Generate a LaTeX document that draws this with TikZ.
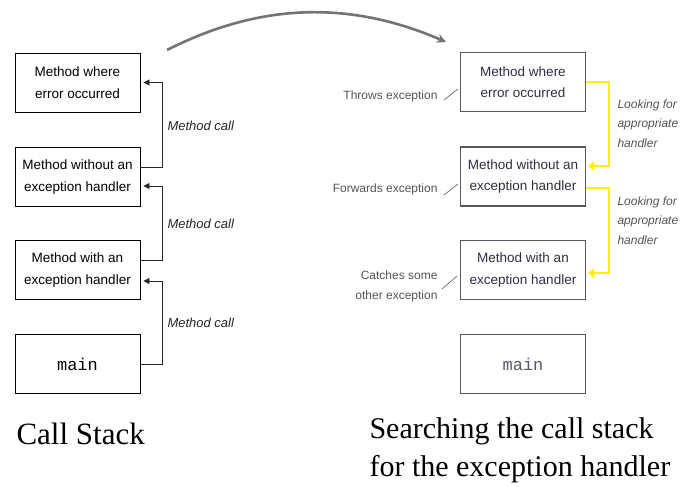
\documentclass[tikz,border=0pt]{standalone}
\usepackage{fontspec}
\setmainfont{Liberation Sans}
\newfontfamily\capfont{Liberation Serif}
\newfontfamily\monofont{Liberation Mono}
\usetikzlibrary{arrows.meta}
\definecolor{ylw}{HTML}{FFF200}
\definecolor{rtxt}{HTML}{2E3040}
\definecolor{anno}{HTML}{555555}
\tikzset{
  lbox/.style={draw=black, line width=0.9pt, minimum width=125pt, minimum height=59pt, align=center, inner sep=0pt, font=\fontsize{13.5}{21.5}\selectfont},
  rbox/.style={lbox, draw=black!65, line width=1.1pt, text=rtxt},
  callarrow/.style={draw=black!85, line width=0.8pt, -{Triangle[length=6pt,width=6pt]}, shorten >=3pt},
  searcharrow/.style={draw=ylw, line width=2.6pt, -{Triangle[length=6pt,width=9pt]}, shorten >=2pt},
  calllabel/.style={anchor=west, font=\fontsize{13}{16}\itshape, text=black!85},
  looklabel/.style={anchor=north west, align=left, font=\fontsize{12}{19.5}\selectfont\itshape, text=anno},
  annolabel/.style={anchor=east, align=right, font=\fontsize{12}{20}\selectfont, text=anno},
  annoline/.style={draw=anno, line width=0.6pt},
  mainlbl/.style={font=\monofont\fontsize{17}{20}\selectfont},
}
\begin{document}
\begin{tikzpicture}[x=1pt,y=-1pt]
\useasboundingbox[fill=white] (0,0) rectangle (691,487);

% left call stack
\node[lbox] (l1) at (77.5,82.5) {Method where\\error occurred};
\node[lbox] (l2) at (77.5,177) {Method without an\\exception handler};
\node[lbox] (l3) at (77.5,270) {Method with an\\exception handler};
\node[lbox, mainlbl] (l4) at (77.5,364) {main};

\draw[callarrow] ([yshift=10pt]l2.east) -- ++(22,0) |- (l1.east);
\draw[callarrow] ([yshift=10pt]l3.east) -- ++(22,0) |- ([yshift=-9pt]l2.east);
\draw[callarrow] (l4.east) -- ++(22,0) |- ([yshift=-11pt]l3.east);

\node[calllabel] (c1) at (164,126) {Method call};
\node[calllabel] (c2) at (164,224) {Method call};
\node[calllabel] (c3) at (164,323) {Method call};

% right search
\node[rbox] (r1) at (523,82) {Method where\\error occurred};
\node[rbox] (r2) at (523,176.5) {Method without an\\exception handler};
\node[rbox] (r3) at (523,270) {Method with an\\exception handler};
\node[rbox, mainlbl, text=rtxt!80] (r4) at (523,364) {main};

\draw[searcharrow] (r1.east) -- ++(23,0) |- ([yshift=10.5pt]r2.east);
\draw[searcharrow] ([yshift=-11.5pt]r2.east) -- ++(23,0) |- ([yshift=-3pt]r3.east);

\node[looklabel] (k1) at (614,96) {Looking for\\appropriate\\handler};
\node[looklabel] (k2) at (614,193) {Looking for\\appropriate\\handler};

\node[annolabel] (a1) at (441,96) {Throws exception};
\node[annolabel] (a2) at (441,189) {Forwards exception};
\node[annolabel] (a3) at (441,286) {Catches some\\other exception};
\draw[annoline] ([xshift=3pt,yshift=-4pt]a1.east) -- ++(14,-11);
\draw[annoline] ([xshift=3pt,yshift=-6pt]a2.east) -- ++(14,-11);
\draw[annoline] ([xshift=1pt,yshift=-3pt]a3.east) -- ++(15,-13);

% curved arrow between the two stacks
\coordinate (cs) at (167,50);
\coordinate (ce) at (446,42);
\draw[draw=black!55, line width=2.6pt, -{Stealth[length=9pt,width=9pt]}] (cs) .. controls (250,8) and (340,-4) .. (ce);

% captions
\node[anchor=west, font=\capfont\fontsize{31}{38}\selectfont] (cap1) at (13,434) {Call Stack};
\node[anchor=north west, align=left, font=\capfont\fontsize{30}{38}\selectfont] (cap2) at (366,414) {Searching the call stack\\for the exception handler};
\end{tikzpicture}
\end{document}
